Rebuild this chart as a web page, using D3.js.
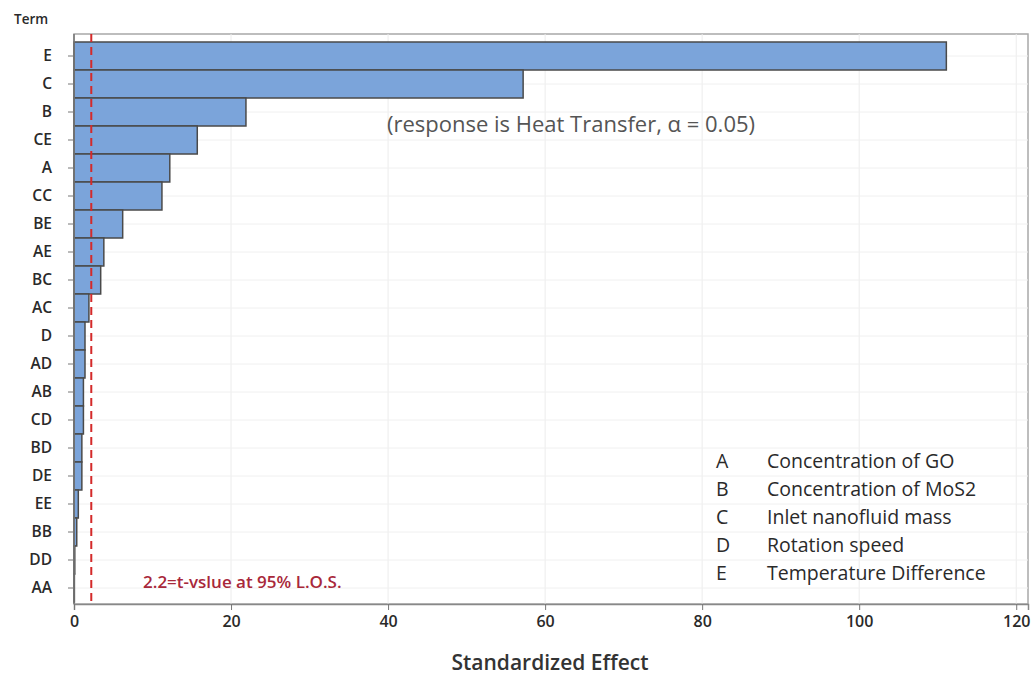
<!DOCTYPE html>
<html>
<head>
<meta charset="utf-8">
<script src="https://cdn.jsdelivr.net/npm/d3@7"></script>
<style>
  html, body { margin: 0; padding: 0; background: #fff; }
  svg { display: block; font-family: "Open Sans", "Noto Sans", sans-serif; }
</style>
</head>
<body>
<svg id="chart" width="1035" height="675"></svg>
<script>
// Pareto chart of standardized effects
const terms = ["E", "C", "B", "CE", "A", "CC", "BE", "AE", "BC", "AC",
               "D", "AD", "AB", "CD", "BD", "DE", "EE", "BB", "DD", "AA"];
const effects = [111.1, 57.2, 21.9, 15.7, 12.2, 11.2, 6.2, 3.8, 3.4, 1.9,
                 1.4, 1.4, 1.2, 1.2, 1.0, 1.0, 0.55, 0.35, 0.1, 0.05];
const xTicks = [0, 20, 40, 60, 80, 100, 120];
const criticalT = 2.2;
const factorCodes = ["A", "B", "C", "D", "E"];
const factorNames = ["Concentration of GO", "Concentration of MoS2",
                     "Inlet nanofluid mass", "Rotation speed", "Temperature Difference"];

const svg = d3.select("#chart");
const plot = { left: 74, right: 1028, top: 34, bottom: 604 };

const x = d3.scaleLinear().domain([0, 121.5]).range([plot.left, plot.right]);
const y = d3.scaleBand().domain(terms).range([42, 602]).paddingInner(0).paddingOuter(0);

// frame
svg.append("rect")
  .attr("x", plot.left).attr("y", plot.top)
  .attr("width", plot.right - plot.left).attr("height", plot.bottom - plot.top)
  .attr("fill", "#fff").attr("stroke", "#a8a8a8").attr("stroke-width", 1.5);

// gridlines
svg.append("g").selectAll("line.v").data(xTicks.filter(d => d > 0)).join("line")
  .attr("x1", d => x(d)).attr("x2", d => x(d))
  .attr("y1", plot.top).attr("y2", plot.bottom)
  .attr("stroke", "#ececec").attr("stroke-width", 1);
svg.append("g").selectAll("line.h").data(terms).join("line")
  .attr("x1", plot.left).attr("x2", plot.right)
  .attr("y1", d => y(d) + y.bandwidth() / 2).attr("y2", d => y(d) + y.bandwidth() / 2)
  .attr("stroke", "#f0f0f0").attr("stroke-width", 1);

// bars
svg.append("g").selectAll("rect").data(terms).join("rect")
  .attr("x", x(0))
  .attr("y", d => y(d))
  .attr("width", (d, i) => x(effects[i]) - x(0))
  .attr("height", y.bandwidth())
  .attr("fill", "#7ba4da")
  .attr("stroke", "#4a4a4a")
  .attr("stroke-width", 1.5);

// reference line
svg.append("line")
  .attr("x1", x(criticalT)).attr("x2", x(criticalT))
  .attr("y1", plot.top).attr("y2", plot.bottom)
  .attr("stroke", "#d42a2a").attr("stroke-width", 2)
  .attr("stroke-dasharray", "8,5");

svg.append("text")
  .attr("x", 143).attr("y", 588)
  .attr("fill", "#a8283a").attr("font-size", 17).attr("font-weight", 600)
  .text("2.2=t-vslue at 95% L.O.S.");

// left border line on top of bars
svg.append("line")
  .attr("x1", plot.left).attr("x2", plot.left)
  .attr("y1", plot.top).attr("y2", plot.bottom)
  .attr("stroke", "#777").attr("stroke-width", 1.5);

// x axis
const xAxis = svg.append("g")
  .attr("transform", `translate(0,${plot.bottom})`)
  .call(d3.axisBottom(x).tickValues(xTicks).tickSize(6).tickPadding(6));
xAxis.select(".domain").attr("stroke", "#888").attr("stroke-width", 1.5);
xAxis.selectAll(".tick line").attr("stroke", "#777");
xAxis.selectAll("text").attr("font-size", 16).attr("font-weight", 600).attr("fill", "#2a2a2a")
  .attr("font-family", "'Open Sans', sans-serif");

// y axis
const yAxis = svg.append("g")
  .attr("transform", `translate(${plot.left},0)`)
  .call(d3.axisLeft(y).tickSize(6).tickPadding(16));
yAxis.select(".domain").remove();
yAxis.selectAll(".tick line").attr("stroke", "#777");
yAxis.selectAll("text").attr("font-size", 15.5).attr("font-weight", 600).attr("fill", "#2a2a2a")
  .attr("font-family", "'Open Sans', sans-serif");

// titles
svg.append("text")
  .attr("x", 14).attr("y", 24)
  .attr("font-size", 13.5).attr("font-weight", 600).attr("fill", "#2a2a2a")
  .text("Term");

svg.append("text")
  .attr("x", 550).attr("y", 670)
  .attr("text-anchor", "middle")
  .attr("font-size", 21).attr("font-weight", 600).attr("fill", "#333")
  .text("Standardized Effect");

svg.append("text")
  .attr("x", 571).attr("y", 132)
  .attr("text-anchor", "middle")
  .attr("font-size", 22).attr("fill", "#555")
  .text("(response is Heat Transfer, \u03b1 = 0.05)");

// factor legend
const legend = svg.append("g");
legend.selectAll("text.code").data(factorCodes).join("text")
  .attr("x", 716).attr("y", (d, i) => 468 + i * 28)
  .attr("font-size", 19.5).attr("fill", "#2a2a2a")
  .text(d => d);
legend.selectAll("text.name").data(factorNames).join("text")
  .attr("x", 767).attr("y", (d, i) => 468 + i * 28)
  .attr("font-size", 19.5).attr("fill", "#2a2a2a")
  .text(d => d);
</script>
</body>
</html>
